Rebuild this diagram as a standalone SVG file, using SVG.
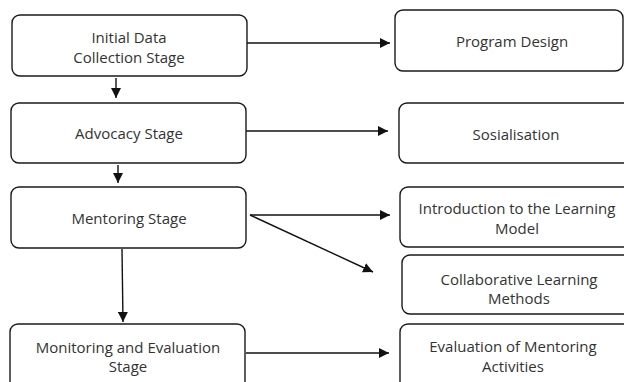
<svg xmlns="http://www.w3.org/2000/svg" width="624" height="382" viewBox="0 0 624 382">
<style>
.box{fill:#fff;stroke:#1a1a1a;stroke-width:1.4}
.t{font-family:"Open Sans","Noto Sans",sans-serif;font-size:15px;fill:#333;text-anchor:middle}
.c{stroke:#111;stroke-width:1.4;fill:none;marker-end:url(#ah)}
</style>
<defs>
<marker id="ah" viewBox="0 0 10 10" refX="10" refY="5" markerWidth="10" markerHeight="10" markerUnits="userSpaceOnUse" orient="auto">
<path d="M0,0 L10,5 L0,10 z" fill="#111"/>
</marker>
</defs>
<rect width="624" height="382" fill="#fff"/>
<g id="connectors">
<line class="c" x1="247" y1="43" x2="390" y2="43"/>
<line class="c" x1="246" y1="131" x2="388" y2="131"/>
<line class="c" x1="250" y1="215" x2="390" y2="215"/>
<line class="c" x1="250" y1="215" x2="373" y2="272"/>
<line class="c" x1="246" y1="353" x2="389" y2="353"/>
<line class="c" x1="116" y1="78" x2="116" y2="98"/>
<line class="c" x1="118" y1="165" x2="118" y2="183"/>
<line class="c" x1="122" y1="249" x2="123" y2="322"/>
</g>
<g id="n1"><rect class="box" x="12" y="15" width="235" height="61" rx="8"/><text class="t" x="129" y="43">Initial Data</text><text class="t" x="129" y="63">Collection Stage</text></g>
<g id="n2"><rect class="box" x="11" y="103" width="235" height="60" rx="8"/><text class="t" x="129" y="139">Advocacy Stage</text></g>
<g id="n3"><rect class="box" x="11" y="187" width="235" height="61" rx="8"/><text class="t" x="129" y="224">Mentoring Stage</text></g>
<g id="n4"><rect class="box" x="10" y="324" width="235" height="70" rx="8"/><text class="t" x="128" y="353">Monitoring and Evaluation</text><text class="t" x="128" y="372">Stage</text></g>
<g id="n5"><rect class="box" x="395" y="10" width="228" height="61" rx="8"/><text class="t" x="512" y="47">Program Design</text></g>
<g id="n6"><rect class="box" x="399" y="103" width="235" height="60" rx="8"/><text class="t" x="516" y="140">Sosialisation</text></g>
<g id="n7"><rect class="box" x="400" y="187" width="235" height="60" rx="8"/><text class="t" x="517" y="214">Introduction to the Learning</text><text class="t" x="517" y="234">Model</text></g>
<g id="n8"><rect class="box" x="402" y="255" width="235" height="59" rx="8"/><text class="t" x="519" y="285">Collaborative Learning</text><text class="t" x="519" y="304">Methods</text></g>
<g id="n9"><rect class="box" x="400" y="324" width="235" height="70" rx="8"/><text class="t" x="513" y="352">Evaluation of Mentoring</text><text class="t" x="513" y="372">Activities</text></g>
</svg>
